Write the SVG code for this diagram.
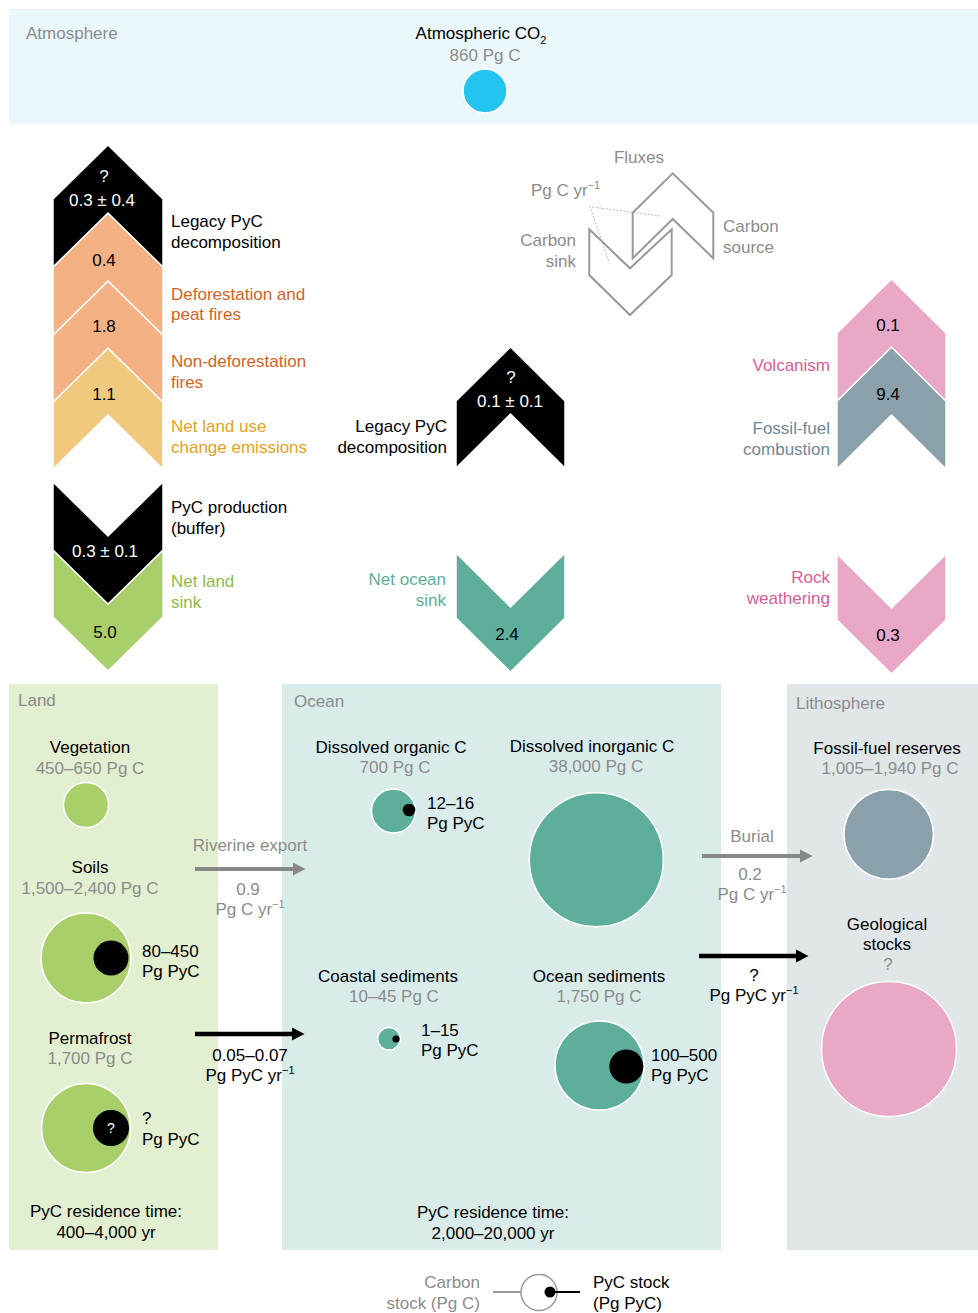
<svg xmlns="http://www.w3.org/2000/svg" width="978" height="1313" viewBox="0 0 978 1313">
<style>
text{font-family:"Liberation Sans",Arial,Helvetica,sans-serif;font-size:17px;fill:#000}
.g{fill:#8c8c8c}
.w{fill:#fff}
.m{text-anchor:middle}
.e{text-anchor:end}
.sup{font-size:11px}
.chev{stroke:#fff;stroke-width:1.5;stroke-linejoin:miter}
.circ{stroke:#fff;stroke-width:1.5}
.peach{fill:#f4b184}
.yel{fill:#f1c97e}
.grn{fill:#a9cf6a}
.teal{fill:#5daf9c}
.pink{fill:#e9a8c6}
.slate{fill:#8aa0ab}
.t-or{fill:#d5621f}
.t-yl{fill:#e6a11e}
.t-gr{fill:#8dbb4b}
.t-tl{fill:#5daf9c}
.t-pk{fill:#dc5b98}
.t-sl{fill:#6f8896}
.legend{fill:none;stroke:#999;stroke-width:2}
</style>
<defs>
<marker id="ahGray" markerUnits="userSpaceOnUse" markerWidth="13" markerHeight="14" refX="1" refY="7" orient="auto" viewBox="0 0 13 14"><path d="M0,0.5 L12.5,7 L0,13.5 Z" fill="#888"/></marker>
<marker id="ahBlack" markerUnits="userSpaceOnUse" markerWidth="13" markerHeight="14" refX="1" refY="7" orient="auto" viewBox="0 0 13 14"><path d="M0,0.5 L12.5,7 L0,13.5 Z" fill="#000"/></marker>
</defs>

<!-- panels -->
<g id="atmosphere">
<rect x="9" y="9" width="969" height="115" fill="#eaf8fc"/>
<text x="26" y="39" class="g">Atmosphere</text>
<text x="481" y="39" class="m">Atmospheric CO<tspan class="sup" dy="5">2</tspan></text>
<text x="485" y="61" class="m g">860 Pg C</text>
<circle cx="485" cy="91" r="22" fill="#24c4f1" class="circ"/>
</g>

<g id="land">
<rect x="9" y="684" width="209" height="566" fill="#e2efd0"/>
<text x="18" y="706" class="g">Land</text>
</g>
<g id="ocean">
<rect x="282" y="684" width="439" height="566" fill="#daecea"/>
<text x="294" y="707" class="g">Ocean</text>
</g>
<g id="lithosphere">
<rect x="787" y="684" width="191" height="566" fill="#e1e6e8"/>
<text x="796" y="709" class="g">Lithosphere</text>
</g>

<!-- left flux column -->
<g id="net-land-use-change">
<path class="chev yel" d="M53,402 L108,348 L163,402 L163,469 L108,415 L53,469 Z"/>
<text x="104" y="400" class="m">1.1</text>
<text x="171" y="432" class="t-yl">Net land use</text>
<text x="171" y="453" class="t-yl">change emissions</text>
</g>
<g id="non-deforestation-fires">
<path class="chev peach" d="M53,335 L108,281 L163,335 L163,402 L108,348 L53,402 Z"/>
<text x="104" y="332" class="m">1.8</text>
<text x="171" y="367" class="t-or">Non-deforestation</text>
<text x="171" y="388" class="t-or">fires</text>
</g>
<g id="deforestation-fires">
<path class="chev peach" d="M53,267 L108,213 L163,267 L163,335 L108,281 L53,335 Z"/>
<text x="104" y="266" class="m">0.4</text>
<text x="171" y="300" class="t-or">Deforestation and</text>
<text x="171" y="320" class="t-or">peat fires</text>
</g>
<g id="legacy-pyc-land">
<path class="chev" fill="#000" d="M53,199 L108,145 L163,199 L163,267 L108,213 L53,267 Z"/>
<text x="104" y="182" class="m w">?</text>
<text x="102" y="206" class="m w">0.3 ± 0.4</text>
<text x="171" y="227">Legacy PyC</text>
<text x="171" y="248">decomposition</text>
</g>
<g id="net-land-sink">
<path class="chev grn" d="M53,550 L108,604 L163,550 L163,617 L108,671 L53,617 Z"/>
<text x="105" y="638" class="m">5.0</text>
<text x="171" y="587" class="t-gr">Net land</text>
<text x="171" y="608" class="t-gr">sink</text>
</g>
<g id="pyc-production">
<path class="chev" fill="#000" d="M53,482 L108,536 L163,482 L163,550 L108,604 L53,550 Z"/>
<text x="105" y="557" class="m w">0.3 ± 0.1</text>
<text x="171" y="513">PyC production</text>
<text x="171" y="534">(buffer)</text>
</g>

<!-- middle flux column -->
<g id="legacy-pyc-ocean">
<path class="chev" fill="#000" d="M456,401 L510.5,347 L565,401 L565,468 L510.5,414 L456,468 Z"/>
<text x="511" y="383" class="m w">?</text>
<text x="510" y="407" class="m w">0.1 ± 0.1</text>
<text x="447" y="432" class="e">Legacy PyC</text>
<text x="447" y="453" class="e">decomposition</text>
</g>
<g id="net-ocean-sink">
<path class="chev teal" d="M456,553 L510.5,607 L565,553 L565,618 L510.5,672 L456,618 Z"/>
<text x="507" y="640" class="m">2.4</text>
<text x="446" y="585" class="e t-tl">Net ocean</text>
<text x="446" y="606" class="e t-tl">sink</text>
</g>

<!-- right flux column -->
<g id="fossil-fuel-combustion">
<path class="chev slate" d="M837,401 L891.5,347 L946,401 L946,469 L891.5,415 L837,469 Z"/>
<text x="888" y="400" class="m">9.4</text>
<text x="830" y="434" class="e t-sl">Fossil-fuel</text>
<text x="830" y="455" class="e t-sl">combustion</text>
</g>
<g id="volcanism">
<path class="chev pink" d="M837,333 L891.5,279 L946,333 L946,401 L891.5,347 L837,401 Z"/>
<text x="888" y="331" class="m">0.1</text>
<text x="830" y="371" class="e t-pk">Volcanism</text>
</g>
<g id="rock-weathering">
<path class="chev pink" d="M837,554 L891.5,608 L946,554 L946,620 L891.5,674 L837,620 Z"/>
<text x="888" y="641" class="m">0.3</text>
<text x="830" y="583" class="e t-pk">Rock</text>
<text x="830" y="604" class="e t-pk">weathering</text>
</g>

<!-- flux legend -->
<g id="flux-legend">
<path class="legend" d="M632.7,212.7 L672.7,173.3 L713.3,212.7 L713.3,258.3 L672.7,219 L632.7,258.3 Z"/>
<path class="legend" d="M589.3,229.3 L630,268.3 L671.7,229.3 L671.7,275 L630,315 L589.3,275 Z"/>
<path d="M660,216 L590,206.7 L609.3,263.3" fill="none" stroke="#aaa" stroke-width="0.8" stroke-dasharray="2,1.5"/>
<text x="639" y="163" class="m g">Fluxes</text>
<text x="531" y="196" class="g">Pg C yr<tspan class="sup" dy="-7">−1</tspan></text>
<text x="576" y="246" class="e g">Carbon</text>
<text x="576" y="267" class="e g">sink</text>
<text x="723" y="232" class="g">Carbon</text>
<text x="723" y="253" class="g">source</text>
</g>

<!-- land stocks -->
<g id="vegetation">
<text x="90" y="753" class="m">Vegetation</text>
<text x="90" y="774" class="m g">450–650 Pg C</text>
<circle cx="86" cy="805" r="22.5" class="circ grn"/>
</g>
<g id="soils">
<text x="90" y="873" class="m">Soils</text>
<text x="90" y="894" class="m g">1,500–2,400 Pg C</text>
<circle cx="86" cy="958" r="45" class="circ grn"/>
<circle cx="111" cy="958" r="17.5" fill="#000"/>
<text x="142" y="957">80–450</text>
<text x="142" y="977">Pg PyC</text>
</g>
<g id="permafrost">
<text x="90" y="1044" class="m">Permafrost</text>
<text x="90" y="1064" class="m g">1,700 Pg C</text>
<circle cx="86" cy="1128" r="44.5" class="circ grn"/>
<circle cx="111" cy="1128" r="18" fill="#000"/>
<text x="111" y="1133" class="m w" style="font-size:14px">?</text>
<text x="142" y="1124">?</text>
<text x="142" y="1145">Pg PyC</text>
</g>
<g id="land-residence">
<text x="106" y="1217" class="m">PyC residence time:</text>
<text x="106" y="1238" class="m">400–4,000 yr</text>
</g>

<!-- ocean stocks -->
<g id="doc">
<text x="391" y="753" class="m">Dissolved organic C</text>
<text x="395" y="773" class="m g">700 Pg C</text>
<circle cx="393.5" cy="811" r="22" class="circ teal"/>
<circle cx="409" cy="810" r="6.3" fill="#000"/>
<text x="427" y="809">12–16</text>
<text x="427" y="829">Pg PyC</text>
</g>
<g id="dic">
<text x="592" y="752" class="m">Dissolved inorganic C</text>
<text x="596" y="772" class="m g">38,000 Pg C</text>
<circle cx="596.3" cy="859.7" r="67" class="circ teal"/>
</g>
<g id="coastal-sediments">
<text x="388" y="982" class="m">Coastal sediments</text>
<text x="394" y="1002" class="m g">10–45 Pg C</text>
<circle cx="389" cy="1038.7" r="11.3" class="circ teal"/>
<circle cx="396" cy="1039" r="3.6" fill="#000"/>
<text x="421" y="1036">1–15</text>
<text x="421" y="1056">Pg PyC</text>
</g>
<g id="ocean-sediments">
<text x="599" y="982" class="m">Ocean sediments</text>
<text x="599" y="1002" class="m g">1,750 Pg C</text>
<circle cx="599.5" cy="1065.5" r="44.5" class="circ teal"/>
<circle cx="626.3" cy="1066.5" r="17" fill="#000"/>
<text x="651" y="1061">100–500</text>
<text x="651" y="1081">Pg PyC</text>
</g>
<g id="ocean-residence">
<text x="493" y="1218" class="m">PyC residence time:</text>
<text x="493" y="1239" class="m">2,000–20,000 yr</text>
</g>

<!-- lithosphere stocks -->
<g id="fossil-fuel-reserves">
<text x="887" y="754" class="m">Fossil-fuel reserves</text>
<text x="890" y="774" class="m g">1,005–1,940 Pg C</text>
<circle cx="888.7" cy="834.3" r="44.7" class="circ slate"/>
</g>
<g id="geological-stocks">
<text x="887" y="930" class="m">Geological</text>
<text x="887" y="950" class="m">stocks</text>
<text x="888" y="970" class="m g">?</text>
<circle cx="889" cy="1049" r="67.5" class="circ pink"/>
</g>

<!-- connectors -->
<g id="connectors">
<line x1="195" y1="869" x2="294" y2="869" stroke="#888" stroke-width="4" marker-end="url(#ahGray)"/>
<line x1="195" y1="1034" x2="293" y2="1034" stroke="#000" stroke-width="4.5" marker-end="url(#ahBlack)"/>
<line x1="702" y1="856" x2="801" y2="856" stroke="#888" stroke-width="4" marker-end="url(#ahGray)"/>
<line x1="699" y1="956" x2="797" y2="956" stroke="#000" stroke-width="4.5" marker-end="url(#ahBlack)"/>
</g>
<g id="connector-labels">
<text x="250" y="851" class="m g">Riverine export</text>
<text x="248" y="895" class="m g">0.9</text>
<text x="250" y="915" class="m g">Pg C yr<tspan class="sup" dy="-7">−1</tspan></text>
<text x="250" y="1061" class="m">0.05–0.07</text>
<text x="250" y="1081" class="m">Pg PyC yr<tspan class="sup" dy="-7">−1</tspan></text>
<text x="752" y="842" class="m g">Burial</text>
<text x="750" y="880" class="m g">0.2</text>
<text x="752" y="900" class="m g">Pg C yr<tspan class="sup" dy="-7">−1</tspan></text>
<text x="754" y="981" class="m">?</text>
<text x="754" y="1001" class="m">Pg PyC yr<tspan class="sup" dy="-7">−1</tspan></text>
</g>

<!-- stock legend -->
<g id="stock-legend">
<line x1="493" y1="1292" x2="521" y2="1292" stroke="#999" stroke-width="2"/>
<circle cx="539" cy="1292.5" r="18" fill="#fff" stroke="#999" stroke-width="1.5"/>
<line x1="550" y1="1292" x2="580" y2="1292" stroke="#000" stroke-width="2"/>
<circle cx="550" cy="1292" r="5.5" fill="#000"/>
<text x="480" y="1288" class="e g">Carbon</text>
<text x="480" y="1309" class="e g">stock (Pg C)</text>
<text x="593" y="1288">PyC stock</text>
<text x="593" y="1309">(Pg PyC)</text>
</g>
</svg>
